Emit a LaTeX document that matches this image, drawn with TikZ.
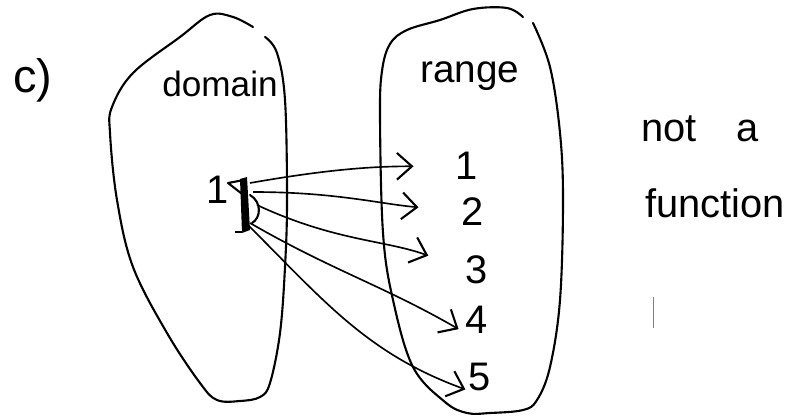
\documentclass[tikz,border=0pt]{standalone}
\usepackage{fontspec}
\setmainfont{Liberation Sans}
\usetikzlibrary{arrows.meta}
\tikzset{
  blob/.style = {line width=1.8pt, line cap=round, line join=round},
  lbl/.style  = {inner sep=0pt, anchor=base, font=\fontsize{30}{32}\selectfont},
  num/.style  = {inner sep=0pt, anchor=base, font=\fontsize{34}{36}\selectfont},
  note/.style = {inner sep=0pt, anchor=base, font=\fontsize{34}{38}\selectfont},
  flow/.style = {-{Straight Barb[length=4.5mm,width=8mm,line width=1.8pt]}, line width=1.4pt},
}

\begin{document}
\begin{tikzpicture}[x=0.03cm, y=0.03cm]
  \useasboundingbox (0,0) rectangle (796,416);
  % outlines
  \draw[blob] plot[smooth, tension=0.6] coordinates {(265,379) (277,363) (285,316) (287,216) (285,149) (280,83) (270,33) (260,19) (240,15) (217,16) (200,33) (167,83) (133,149) (117,216) (110,283) (112,309) (133,343) (180,379) (210,401) (233,399) (253,389)};
  \draw[blob] plot[smooth, tension=0.6] coordinates {(533,393) (550,349) (560,283) (563,216) (560,116) (550,49) (537,16) (523,6) (490,3) (467,3) (445,14) (413,49) (393,116) (383,183) (380,299) (382,345) (390,372) (407,386) (440,396) (473,407) (507,408) (523,399)};

  \node[note, font=\fontsize{40}{44}\selectfont] (part) at (33,323) {c)};
  \node[lbl] (dom) at (220,319) {domain};
  \node[lbl, font=\fontsize{33}{36}\selectfont] (ran) at (470,333) {range};

  \node[num] (d1) at (218,213) {1};
  \node[num] (r1) at (467,236) {1};
  \node[num] (r2) at (473,191) {2};
  \node[num] (r3) at (477,133) {3};
  \node[num] (r4) at (477,83)  {4};
  \node[num] (r5) at (480,26)  {5};

  \node[note] (nota) at (700,274) {not\hspace{1.2cm}a};
  \node[note] (func) at (715,199) {function};

  % scribble at the domain element
  \fill (240,237) -- (247,239) -- (250,186) -- (242,183) -- cycle;
  \draw[blob] (228,233) -- (244,236) -- (246,219) -- cycle;
  \draw[blob] (250,221) .. controls (262,214) and (261,198) .. (252,193);
  \draw[line width=1.2pt] (235,184) -- (242,184);
  \coordinate (k1) at (250,233);
  \coordinate (k2) at (253,224);
  \coordinate (k3) at (257,211);
  \coordinate (k4) at (250,193);
  \coordinate (k5) at (249,190);

  \foreach \n/\s/\a/\o/\i in {1/36/west/10/180, 2/37/west/0/175, 3/34/west/-25/160, 4/7/south west/-30/150, 5/3/south west/-45/160}{
    \draw[flow, shorten >=\s pt] (k\n) to[out=\o, in=\i] (r\n.\a);
  }

  \draw[gray, line width=0.6pt] (653,119) -- (653,88);
\end{tikzpicture}
\end{document}
